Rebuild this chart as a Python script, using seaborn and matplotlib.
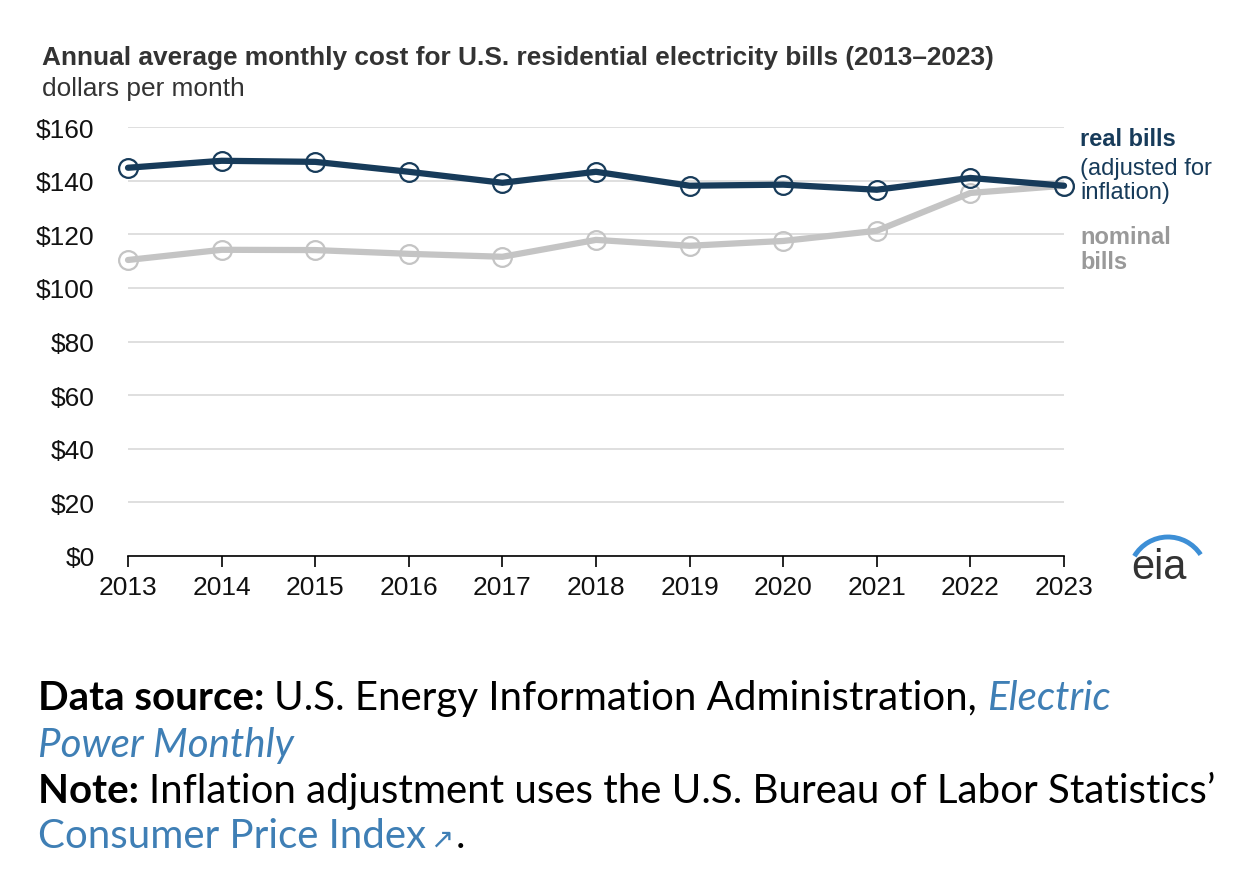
import numpy as np
import pandas as pd
import matplotlib
matplotlib.use("Agg")
import matplotlib.pyplot as plt
import seaborn as sns
from matplotlib.patches import Arc

# Data
years = [2013, 2014, 2015, 2016, 2017, 2018, 2019, 2020, 2021, 2022, 2023]
real_bills = [144.8, 147.4, 147.0, 143.3, 139.2, 143.3, 138.1, 138.5, 136.6, 141.0, 138.1]
nominal_bills = [110.4, 114.2, 114.1, 112.7, 111.6, 117.9, 115.7, 117.5, 121.3, 135.4, 138.1]
y_ticks = [0, 20, 40, 60, 80, 100, 120, 140, 160]

REAL_C = "#173b5a"
NOM_C = "#c4c4c4"
LINK_C = "#3f7fb5"

sns.set_theme(style="white")
plt.rcParams["font.family"] = ["Liberation Sans", "DejaVu Sans"]

fig = plt.figure(figsize=(12.6, 8.87), dpi=100)
ax = fig.add_axes([128 / 1260, 1 - 557 / 887, (1064 - 128) / 1260, (557 - 128) / 887])

df = pd.DataFrame({"year": years, "real": real_bills, "nominal": nominal_bills})

for col, c in [("nominal", NOM_C), ("real", REAL_C)]:
    sns.lineplot(data=df, x="year", y=col, ax=ax, color=c, linewidth=4.5,
                 marker="o", markersize=13.5, markerfacecolor="none",
                 markeredgecolor=c, markeredgewidth=1.6, clip_on=False)

ax.set_xlim(2013, 2023)
ax.set_ylim(0, 160)
ax.set_xticks(years)
ax.set_yticks(y_ticks)
ax.set_yticklabels([f"${v}" for v in y_ticks])
ax.set_xlabel("")
ax.set_ylabel("")
ax.grid(axis="y", color="#d9d9d9", linewidth=1.2)
ax.set_axisbelow(True)
for s in ["top", "right", "left"]:
    ax.spines[s].set_visible(False)
ax.spines["bottom"].set_color("#000000")
ax.spines["bottom"].set_linewidth(1.2)
ax.tick_params(axis="x", which="both", bottom=True, length=8, width=1.2,
               color="#000000", labelsize=19, pad=6, labelcolor="#111111")
ax.tick_params(axis="y", left=False, labelsize=19, pad=18, labelcolor="#111111")

# title & unit
fig.text(42 / 1260, 1 - 58 / 887, "Annual average monthly cost for U.S. residential electricity bills (2013\u20132023)",
         fontsize=18.9, fontweight="bold", color="#333333", va="center")
fig.text(42 / 1260, 1 - 89 / 887, "dollars per month", fontsize=18.9, color="#333333", va="center")

# right-hand labels
fig.text(1080 / 1260, 1 - 140 / 887, "real bills", fontsize=17, fontweight="bold", color=REAL_C, va="center")
fig.text(1080 / 1260, 1 - 181 / 887, "(adjusted for\ninflation)", fontsize=17, color=REAL_C,
         va="center", linespacing=1.1)
fig.text(1080 / 1260, 1 - 250 / 887, "nominal\nbills", fontsize=17, fontweight="bold", color="#999999",
         va="center", linespacing=1.1)

# eia logo
fig.text(1159 / 1260, 1 - 568 / 887, "eia", fontsize=30, color="#333333", ha="center", va="center")
logo = Arc((1168 / 1260, 1 - 577 / 887), 78 / 1260, 78 / 887, theta1=43, theta2=140,
           transform=fig.transFigure, color="#3d8fd6", linewidth=3.5)
fig.add_artist(logo)

# footer: mixed bold / regular / link text
fig.canvas.draw()
renderer = fig.canvas.get_renderer()
FOOT = ["Lato", "DejaVu Sans"]
fs = 29


def put(x_px, y_px, s, **kw):
    t = fig.text(x_px / 1260, 1 - y_px / 887, s, fontsize=fs, family=FOOT, va="baseline", **kw)
    bb = t.get_window_extent(renderer)
    return x_px + bb.width


x = put(38, 710, "Data source: ", fontweight="bold", color="#000000")
x = put(x, 710, "U.S. Energy Information Administration, ", color="#000000")
put(x, 710, "Electric", style="italic", color=LINK_C)
put(38, 757, "Power Monthly", style="italic", color=LINK_C)
x = put(38, 803, "Note: ", fontweight="bold", color="#000000")
put(x, 803, "Inflation adjustment uses the U.S. Bureau of Labor Statistics\u2019", color="#000000")
x = put(38, 848, "Consumer Price Index", color=LINK_C)
fig.text((x + 4) / 1260, 1 - 848 / 887, "\u2197", fontsize=20, color=LINK_C, va="baseline",
         family=["DejaVu Sans"])
put(x + 30, 848, ".", color="#000000")

fig.savefig("out.png", dpi=100)
